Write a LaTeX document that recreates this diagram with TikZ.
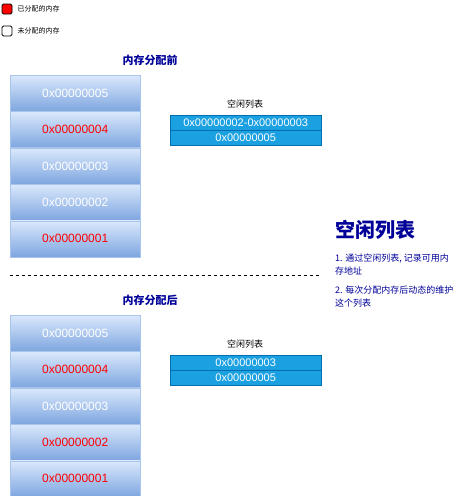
\documentclass[tikz,border=0pt]{standalone}
\usepackage{fontspec}
\setmainfont{Liberation Sans}
\newfontfamily\cjk{Noto Sans CJK SC}
\usetikzlibrary{positioning}
\definecolor{navy}{HTML}{000099}
\definecolor{listfill}{HTML}{1BA1E2}
\definecolor{listdraw}{HTML}{006EAF}
\definecolor{celltop}{HTML}{DAE8FC}
\definecolor{cellbot}{HTML}{7EA6E0}
\definecolor{celldraw}{HTML}{A9C4EB}

\begin{document}
\begin{tikzpicture}[x=1pt,y=-1pt,cell/.style={rectangle,draw=celldraw,top color=celltop,bottom color=cellbot,minimum width=130pt,minimum height=36pt,inner sep=0pt,font=\fontsize{12}{14}\selectfont},free/.style={cell,text=white},used/.style={cell,text=red},item/.style={rectangle,draw=listdraw,fill=listfill,text=white,minimum width=151pt,minimum height=15pt,inner sep=0pt,font=\fontsize{11}{12}\selectfont},title/.style={font=\cjk\bfseries\fontsize{11}{13}\selectfont,text=navy},caption/.style={font=\cjk\fontsize{9}{10}\selectfont},legend/.style={rectangle,draw=black,line width=0.8pt,rounded corners=1.5pt,minimum size=10pt,inner sep=0pt}]
		\useasboundingbox (0,0) rectangle (471,496);

		% legend
		\node[legend,fill=red]										(ku)	at (7,9)	{};
		\node[legend,fill=white]									(kf)	at (7,31)	{};
		\node[anchor=west,font=\cjk\fontsize{7}{8}\selectfont]	(kut)	at (14,9)	{已分配的内存};
		\node[anchor=west,font=\cjk\fontsize{7}{8}\selectfont]	(kft)	at (14,31)	{未分配的内存};

		% before
		\node[title]										(tb)		at (150,60)	{内存分配前};
		\node[free,anchor=north west]						(b5)		at (10,75)	{0x00000005};
		\node[used,node distance=0pt,below=of b5]			(b4)		{0x00000004};
		\node[free,node distance=0pt,below=of b4]			(b3)		{0x00000003};
		\node[free,node distance=0pt,below=of b3]			(b2)		{0x00000002};
		\node[used,node distance=0pt,below=of b2]			(b1)		{0x00000001};

		\node[caption]										(lb)		at (245,104)	{空闲列表};
		\node[item,anchor=north west]						(lb1)		at (170,115)	{0x00000002-0x00000003};
		\node[item,node distance=0pt,below=of lb1]			(lb2)		{0x00000005};

		% separator
		\coordinate											(s1)		at (10,275);
		\coordinate											(s2)		at (320,275);
		\draw[dashed,line width=0.6pt] (s1) -- (s2);

		% after
		\node[title]										(ta)		at (150,300)	{内存分配后};
		\node[free,anchor=north west]						(a5)		at (10,315)	{0x00000005};
		\node[used,node distance=0pt,below=of a5]			(a4)		{0x00000004};
		\node[free,node distance=0pt,below=of a4]			(a3)		{0x00000003};
		\node[used,node distance=0pt,below=of a3]			(a2)		{0x00000002};
		\node[used,node distance=0pt,below=of a2]			(a1)		{0x00000001};

		\node[caption]										(la)		at (245,344)	{空闲列表};
		\node[item,anchor=north west]						(la1)		at (170,355)	{0x00000003};
		\node[item,node distance=0pt,below=of la1]			(la2)		{0x00000005};

		% note
		\node[anchor=west,font=\cjk\bfseries\fontsize{20}{22}\selectfont,text=navy,inner sep=0pt]	(nt)	at (335,230)	{空闲列表};
		\node[anchor=north west,align=left,inner sep=0pt,text=navy,font=\cjk\fontsize{9}{12.5}\selectfont]	(n1)	at (335,254)	{1. 通过空闲列表, 记录可用内\\存地址};
		\node[anchor=north west,align=left,inner sep=0pt,text=navy,font=\cjk\fontsize{9}{12.5}\selectfont]	(n2)	at (335,286)	{2. 每次分配内存后动态的维护\\这个列表};
	\end{tikzpicture}
\end{document}
